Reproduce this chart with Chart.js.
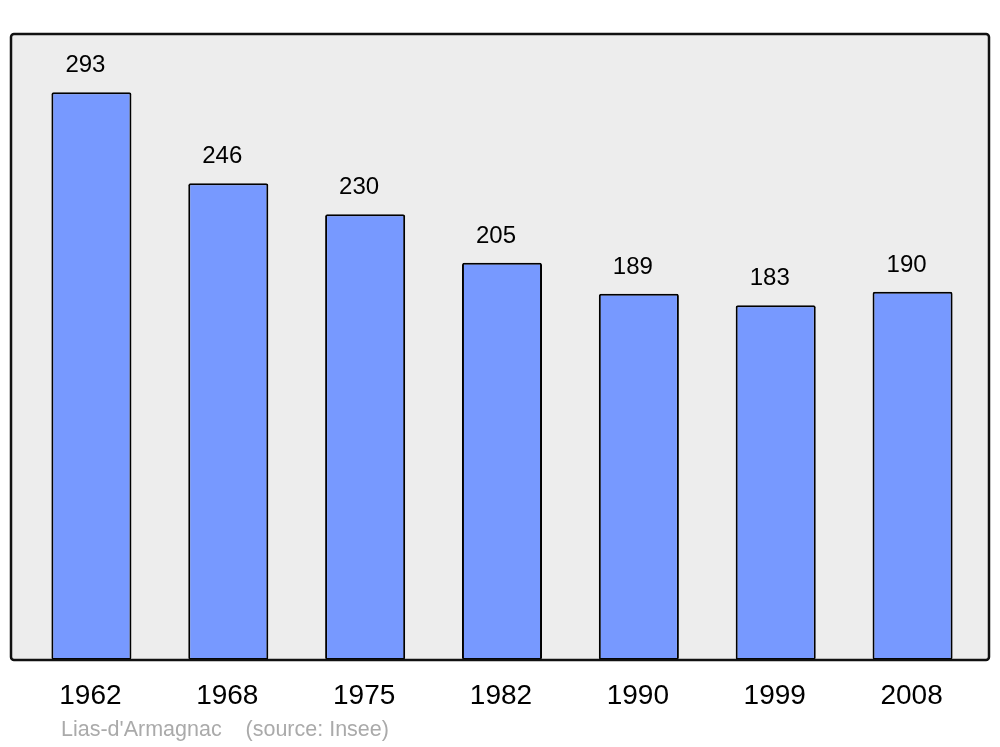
<!DOCTYPE html>
<html>
<head>
<meta charset="utf-8">
<script src="https://cdn.jsdelivr.net/npm/chart.js@4"></script>
<style>
html,body{margin:0;padding:0;background:#fff;}
#wrap{width:1000px;height:747px;position:relative;}
</style>
</head>
<body>
<div id="wrap"><canvas id="c" width="1000" height="747"></canvas></div>
<script>
const categories = ["1962","1968","1975","1982","1990","1999","2008"];
const population = [293,246,230,205,189,183,190];
const footerText = "Lias-d'Armagnac    (source: Insee)";

const framePlugin = {
  id: 'frame',
  beforeDraw(chart) {
    const {ctx, chartArea} = chart;
    const x0 = chartArea.left - 12, x1 = chartArea.right + 8;
    const y0 = chartArea.top, y1 = chartArea.bottom;
    ctx.save();
    ctx.beginPath();
    ctx.roundRect(x0, y0, x1 - x0, y1 - y0, 3);
    ctx.fillStyle = '#ededed';
    ctx.fill();
    ctx.restore();
  },
  afterDatasetsDraw(chart) {
    const {ctx, chartArea} = chart;
    const x0 = chartArea.left - 12, x1 = chartArea.right + 8;
    const y0 = chartArea.top, y1 = chartArea.bottom;
    ctx.save();
    ctx.beginPath();
    ctx.roundRect(x0, y0, x1 - x0, y1 - y0, 3);
    ctx.lineWidth = 2.5;
    ctx.strokeStyle = '#111';
    ctx.stroke();
    // value labels
    const meta = chart.getDatasetMeta(0);
    const xs = chart.scales.x;
    ctx.fillStyle = '#000';
    ctx.font = '24px "Liberation Sans", Arial, sans-serif';
    ctx.textAlign = 'center';
    ctx.textBaseline = 'alphabetic';
    meta.data.forEach((bar, i) => {
      ctx.fillText(String(population[i]), bar.x - 6, bar.y - 20);
    });
    // category labels
    ctx.font = '28px "Liberation Sans", Arial, sans-serif';
    ctx.textBaseline = 'middle';
    categories.forEach((c, i) => {
      ctx.fillText(c, xs.getPixelForValue(i) - 1, y1 + 36);
    });
    // footer
    ctx.font = '21.5px "Liberation Sans", Arial, sans-serif';
    ctx.fillStyle = '#aaaaaa';
    ctx.textAlign = 'left';
    ctx.fillText(footerText, 61, y1 + 70);
    ctx.restore();
  }
};

new Chart(document.getElementById('c'), {
  type: 'bar',
  data: {
    labels: categories,
    datasets: [{
      data: population,
      backgroundColor: '#7799ff',
      borderColor: '#000',
      borderWidth: 2,
      borderRadius: 2,
      borderSkipped: false,
      barPercentage: 0.585,
      categoryPercentage: 1.0
    }]
  },
  options: {
    responsive: false,
    animation: false,
    devicePixelRatio: 1,
    layout: { padding: { left: 23, right: 19, top: 34, bottom: 87 } },
    plugins: { legend: { display: false }, tooltip: { enabled: false } },
    scales: {
      x: { display: false },
      y: { display: false, min: 0, max: 323 }
    }
  },
  plugins: [framePlugin]
});
</script>
</body>
</html>
